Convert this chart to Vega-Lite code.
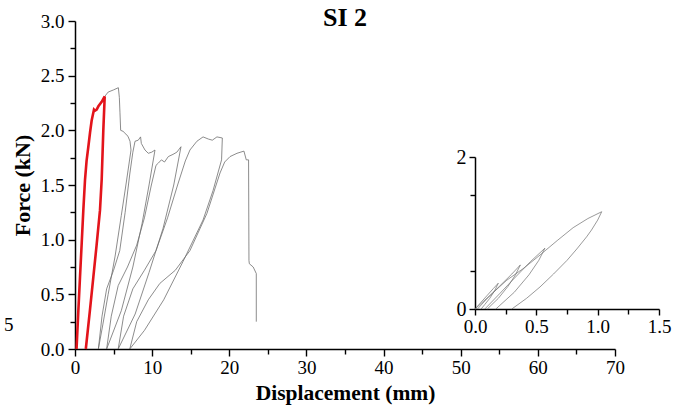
{
  "$schema": "https://vega.github.io/schema/vega-lite/v6.json",
  "width": 540,
  "height": 328,
  "autosize": {"type": "none"},
  "padding": {"left": 75, "top": 21, "right": 70, "bottom": 62},
  "background": "white",
  "title": {"text": "SI 2", "font": "Liberation Serif", "fontSize": 26, "fontWeight": "bold", "anchor": "middle", "frame": "group", "offset": -19, "color": "black"},
  "config": {
    "view": {"stroke": null},
    "axis": {"labelFont": "Liberation Serif", "titleFont": "Liberation Serif", "labelColor": "black", "titleColor": "black", "domainColor": "black", "tickColor": "black", "grid": false, "domainWidth": 1.5, "tickWidth": 1.4, "labelFontSize": 19, "titleFontSize": 21, "titleFontWeight": "bold", "labelFlush": false, "labelOverlap": false, "labelBound": false}
  },
  "datasets": {
    "red": [
      {"i": 0, "d": 0.2, "F": 0}, {"i": 1, "d": 0.42, "F": 0.33}, {"i": 2, "d": 0.65, "F": 0.66}, {"i": 3, "d": 0.87, "F": 0.97}, {"i": 4, "d": 1.08, "F": 1.27}, {"i": 5, "d": 1.3, "F": 1.55}, {"i": 6, "d": 1.5, "F": 1.72}, {"i": 7, "d": 1.73, "F": 1.85}, {"i": 8, "d": 1.95, "F": 1.98}, {"i": 9, "d": 2.16, "F": 2.09}, {"i": 10, "d": 2.46, "F": 2.19}, {"i": 11, "d": 2.6, "F": 2.18}, {"i": 12, "d": 2.81, "F": 2.19}, {"i": 13, "d": 3.03, "F": 2.22}, {"i": 14, "d": 3.46, "F": 2.26}, {"i": 15, "d": 3.85, "F": 2.31},
      {"i": 16, "d": 3.67, "F": 2.0}, {"i": 17, "d": 3.46, "F": 1.55}, {"i": 18, "d": 3.24, "F": 1.27}, {"i": 19, "d": 2.8, "F": 0.95}, {"i": 20, "d": 2.38, "F": 0.66}, {"i": 21, "d": 1.9, "F": 0.33}, {"i": 22, "d": 1.4, "F": 0}
    ],
    "gray": [
      {"i": 0, "d": 3.85, "F": 2.31}, {"i": 1, "d": 4.3, "F": 2.35}, {"i": 2, "d": 5.0, "F": 2.37}, {"i": 3, "d": 5.62, "F": 2.39}, {"i": 4, "d": 5.75, "F": 2.3}, {"i": 5, "d": 5.83, "F": 2.16}, {"i": 6, "d": 5.92, "F": 2.0}, {"i": 7, "d": 6.27, "F": 1.99}, {"i": 8, "d": 6.5, "F": 1.97}, {"i": 9, "d": 6.7, "F": 1.96}, {"i": 10, "d": 6.9, "F": 1.94}, {"i": 11, "d": 7.13, "F": 1.9}, {"i": 12, "d": 7.26, "F": 1.82},
      {"i": 13, "d": 6.6, "F": 1.5}, {"i": 14, "d": 6.0, "F": 1.22}, {"i": 15, "d": 5.2, "F": 0.85}, {"i": 16, "d": 4.3, "F": 0.5}, {"i": 17, "d": 3.6, "F": 0.22}, {"i": 18, "d": 3.03, "F": 0},
      {"i": 19, "d": 3.5, "F": 0.3}, {"i": 20, "d": 4.1, "F": 0.55}, {"i": 21, "d": 5.0, "F": 0.72}, {"i": 22, "d": 5.8, "F": 0.9}, {"i": 23, "d": 6.5, "F": 1.25}, {"i": 24, "d": 7.1, "F": 1.6}, {"i": 25, "d": 7.5, "F": 1.8}, {"i": 26, "d": 7.78, "F": 1.9}, {"i": 27, "d": 8.2, "F": 1.91}, {"i": 28, "d": 8.5, "F": 1.94}, {"i": 29, "d": 8.6, "F": 1.88}, {"i": 30, "d": 9.07, "F": 1.82}, {"i": 31, "d": 9.5, "F": 1.79}, {"i": 32, "d": 9.94, "F": 1.8}, {"i": 33, "d": 10.37, "F": 1.82},
      {"i": 34, "d": 9.6, "F": 1.5}, {"i": 35, "d": 8.7, "F": 1.15}, {"i": 36, "d": 7.5, "F": 0.75}, {"i": 37, "d": 6.0, "F": 0.35}, {"i": 38, "d": 4.1, "F": 0},
      {"i": 39, "d": 4.7, "F": 0.3}, {"i": 40, "d": 5.6, "F": 0.58}, {"i": 41, "d": 6.8, "F": 0.75}, {"i": 42, "d": 8.0, "F": 0.95}, {"i": 43, "d": 9.0, "F": 1.2}, {"i": 44, "d": 9.9, "F": 1.5}, {"i": 45, "d": 10.5, "F": 1.68}, {"i": 46, "d": 10.8, "F": 1.7}, {"i": 47, "d": 11.2, "F": 1.73}, {"i": 48, "d": 11.6, "F": 1.71}, {"i": 49, "d": 12.1, "F": 1.76}, {"i": 50, "d": 12.7, "F": 1.78}, {"i": 51, "d": 13.2, "F": 1.8}, {"i": 52, "d": 13.74, "F": 1.85},
      {"i": 53, "d": 12.8, "F": 1.5}, {"i": 54, "d": 11.4, "F": 1.1}, {"i": 55, "d": 9.6, "F": 0.7}, {"i": 56, "d": 7.8, "F": 0.32}, {"i": 57, "d": 5.6, "F": 0},
      {"i": 58, "d": 6.3, "F": 0.3}, {"i": 59, "d": 7.5, "F": 0.55}, {"i": 60, "d": 9.0, "F": 0.72}, {"i": 61, "d": 10.5, "F": 0.9}, {"i": 62, "d": 12.0, "F": 1.2}, {"i": 63, "d": 13.3, "F": 1.5}, {"i": 64, "d": 14.3, "F": 1.72}, {"i": 65, "d": 14.9, "F": 1.82}, {"i": 66, "d": 15.8, "F": 1.9}, {"i": 67, "d": 16.6, "F": 1.94}, {"i": 68, "d": 17.3, "F": 1.92}, {"i": 69, "d": 17.8, "F": 1.91}, {"i": 70, "d": 18.4, "F": 1.94}, {"i": 71, "d": 19.1, "F": 1.93},
      {"i": 72, "d": 19.0, "F": 1.73}, {"i": 73, "d": 17.9, "F": 1.45}, {"i": 74, "d": 16.6, "F": 1.18}, {"i": 75, "d": 14.0, "F": 0.8}, {"i": 76, "d": 11.5, "F": 0.45}, {"i": 77, "d": 9.0, "F": 0.17}, {"i": 78, "d": 7.1, "F": 0},
      {"i": 79, "d": 8.0, "F": 0.25}, {"i": 80, "d": 9.5, "F": 0.45}, {"i": 81, "d": 11.0, "F": 0.6}, {"i": 82, "d": 13.0, "F": 0.72}, {"i": 83, "d": 14.9, "F": 0.9}, {"i": 84, "d": 17.1, "F": 1.24}, {"i": 85, "d": 18.8, "F": 1.61}, {"i": 86, "d": 19.4, "F": 1.71}, {"i": 87, "d": 20.1, "F": 1.76}, {"i": 88, "d": 21.0, "F": 1.79}, {"i": 89, "d": 21.9, "F": 1.81}, {"i": 90, "d": 22.2, "F": 1.73}, {"i": 91, "d": 22.5, "F": 1.73}, {"i": 92, "d": 22.55, "F": 0.81}, {"i": 93, "d": 22.6, "F": 0.78}, {"i": 94, "d": 23.1, "F": 0.75}, {"i": 95, "d": 23.5, "F": 0.69}, {"i": 96, "d": 23.5, "F": 0.25}
    ],
    "inset": [
      {"loop": "D", "i": 0, "d": 0, "F": 0}, {"loop": "D", "i": 1, "d": 0.05, "F": 0.09}, {"loop": "D", "i": 2, "d": 0.1, "F": 0.18}, {"loop": "D", "i": 3, "d": 0.15, "F": 0.27}, {"loop": "D", "i": 4, "d": 0.19, "F": 0.34}, {"loop": "D", "i": 5, "d": 0.16, "F": 0.24}, {"loop": "D", "i": 6, "d": 0.12, "F": 0.14}, {"loop": "D", "i": 7, "d": 0.08, "F": 0.06}, {"loop": "D", "i": 8, "d": 0.05, "F": 0},
      {"loop": "C", "i": 0, "d": 0.02, "F": 0}, {"loop": "C", "i": 1, "d": 0.1, "F": 0.14}, {"loop": "C", "i": 2, "d": 0.2, "F": 0.3}, {"loop": "C", "i": 3, "d": 0.3, "F": 0.46}, {"loop": "C", "i": 4, "d": 0.37, "F": 0.58}, {"loop": "C", "i": 5, "d": 0.33, "F": 0.45}, {"loop": "C", "i": 6, "d": 0.27, "F": 0.3}, {"loop": "C", "i": 7, "d": 0.19, "F": 0.14}, {"loop": "C", "i": 8, "d": 0.1, "F": 0},
      {"loop": "B", "i": 0, "d": 0.08, "F": 0}, {"loop": "B", "i": 1, "d": 0.2, "F": 0.2}, {"loop": "B", "i": 2, "d": 0.3, "F": 0.37}, {"loop": "B", "i": 3, "d": 0.45, "F": 0.62}, {"loop": "B", "i": 4, "d": 0.57, "F": 0.8}, {"loop": "B", "i": 5, "d": 0.52, "F": 0.64}, {"loop": "B", "i": 6, "d": 0.44, "F": 0.45}, {"loop": "B", "i": 7, "d": 0.32, "F": 0.22}, {"loop": "B", "i": 8, "d": 0.17, "F": 0},
      {"loop": "A", "i": 0, "d": 0, "F": 0}, {"loop": "A", "i": 1, "d": 0.13, "F": 0.19}, {"loop": "A", "i": 2, "d": 0.26, "F": 0.38}, {"loop": "A", "i": 3, "d": 0.4, "F": 0.54}, {"loop": "A", "i": 4, "d": 0.53, "F": 0.71}, {"loop": "A", "i": 5, "d": 0.67, "F": 0.9}, {"loop": "A", "i": 6, "d": 0.8, "F": 1.07}, {"loop": "A", "i": 7, "d": 0.92, "F": 1.19}, {"loop": "A", "i": 8, "d": 1.033, "F": 1.28}, {"loop": "A", "i": 9, "d": 1.0, "F": 1.17}, {"loop": "A", "i": 10, "d": 0.95, "F": 1.04}, {"loop": "A", "i": 11, "d": 0.91, "F": 0.95}, {"loop": "A", "i": 12, "d": 0.83, "F": 0.79}, {"loop": "A", "i": 13, "d": 0.75, "F": 0.64}, {"loop": "A", "i": 14, "d": 0.64, "F": 0.46}, {"loop": "A", "i": 15, "d": 0.53, "F": 0.29}, {"loop": "A", "i": 16, "d": 0.42, "F": 0.14}, {"loop": "A", "i": 17, "d": 0.3, "F": 0}
    ],
    "stray": [{"t": "5", "d": -8.6, "F": 0.22}]
  },
  "layer": [
    {
      "layer": [
        {
          "data": {"name": "gray"},
          "mark": {"type": "line", "color": "#6e6e6e", "strokeWidth": 0.8},
          "encoding": {
            "x": {"field": "d", "type": "quantitative", "scale": {"domain": [0, 70], "nice": false, "zero": false},
                  "axis": {"orient": "bottom", "values": [0, 10, 20, 30, 40, 50, 60, 70], "format": "d", "tickSize": 7, "labelPadding": 2, "labelFont": "Liberation Serif", "labelFontSize": 19, "title": "Displacement (mm)", "titleFont": "Liberation Serif", "titleFontSize": 21.5, "titlePadding": 5}},
            "y": {"field": "F", "type": "quantitative", "scale": {"domain": [0, 3], "nice": false, "zero": false},
                  "axis": {"orient": "left", "values": [0, 0.5, 1, 1.5, 2, 2.5, 3], "format": ".1f", "tickSize": 7, "labelPadding": 4, "labelFont": "Liberation Serif", "labelFontSize": 19, "title": "Force (kN)", "titleFont": "Liberation Serif", "titleFontSize": 22, "titlePadding": 6}},
            "order": {"field": "i", "type": "quantitative"}
          }
        },
        {
          "data": {"name": "red"},
          "mark": {"type": "line", "color": "#e3141b", "strokeWidth": 2.6},
          "encoding": {
            "x": {"field": "d", "type": "quantitative", "scale": {"domain": [0, 70], "nice": false, "zero": false}, "axis": null},
            "y": {"field": "F", "type": "quantitative", "scale": {"domain": [0, 3], "nice": false, "zero": false}, "axis": null},
            "order": {"field": "i", "type": "quantitative"}
          }
        },
        {
          "data": {"name": "stray"},
          "mark": {"type": "text", "font": "Liberation Serif", "fontSize": 19, "color": "black"},
          "encoding": {
            "x": {"field": "d", "type": "quantitative", "scale": {"domain": [0, 70], "nice": false, "zero": false}, "axis": null},
            "y": {"field": "F", "type": "quantitative", "scale": {"domain": [0, 3], "nice": false, "zero": false}, "axis": null},
            "text": {"field": "t"}
          }
        },
        {
          "data": {"name": "gray"},
          "mark": {"type": "line", "strokeOpacity": 0},
          "encoding": {
            "x": {"field": "d", "type": "quantitative", "scale": {"domain": [0, 70], "nice": false, "zero": false},
                  "axis": {"orient": "bottom", "values": [5, 15, 25, 35, 45, 55, 65], "labels": false, "domain": false, "tickSize": 5, "title": null}},
            "y": {"field": "F", "type": "quantitative", "scale": {"domain": [0, 3], "nice": false, "zero": false},
                  "axis": {"orient": "left", "values": [0.25, 0.75, 1.25, 1.75, 2.25, 2.75], "labels": false, "domain": false, "tickSize": 5, "title": null}},
            "order": {"field": "i", "type": "quantitative"}
          }
        }
      ],
      "resolve": {"axis": {"x": "independent", "y": "independent"}}
    },
    {
      "layer": [
        {
          "data": {"name": "inset"},
          "mark": {"type": "line", "color": "#6e6e6e", "strokeWidth": 0.7},
          "encoding": {
            "x": {"field": "d", "type": "quantitative", "scale": {"domain": [0, 1.5], "range": [400, 584], "nice": false, "zero": false},
                  "axis": {"orient": "bottom", "offset": -40, "values": [0, 0.5, 1, 1.5], "format": ".1f", "tickSize": 6, "labelPadding": 2, "labelFont": "Liberation Serif", "labelFontSize": 19, "title": null}},
            "y": {"field": "F", "type": "quantitative", "scale": {"domain": [0, 2], "range": [288, 136], "nice": false, "zero": false},
                  "axis": {"orient": "left", "offset": -400, "values": [0, 1, 2], "format": "d", "tickSize": 6, "labelPadding": 3, "labelFont": "Liberation Serif", "labelFontSize": 20, "title": null}},
            "detail": {"field": "loop"},
            "order": {"field": "i", "type": "quantitative"}
          }
        },
        {
          "data": {"name": "inset"},
          "mark": {"type": "line", "strokeOpacity": 0},
          "encoding": {
            "x": {"field": "d", "type": "quantitative", "scale": {"domain": [0, 1.5], "range": [400, 584], "nice": false, "zero": false},
                  "axis": {"orient": "bottom", "offset": -40, "values": [0.25, 0.75, 1.25], "labels": false, "domain": false, "tickSize": 5, "title": null}},
            "y": {"field": "F", "type": "quantitative", "scale": {"domain": [0, 2], "range": [288, 136], "nice": false, "zero": false},
                  "axis": {"orient": "left", "offset": -400, "values": [0.5, 1.5], "labels": false, "domain": false, "tickSize": 5, "title": null}},
            "detail": {"field": "loop"},
            "order": {"field": "i", "type": "quantitative"}
          }
        }
      ],
      "resolve": {"axis": {"x": "independent", "y": "independent"}}
    }
  ],
  "resolve": {"scale": {"x": "independent", "y": "independent"}}
}
